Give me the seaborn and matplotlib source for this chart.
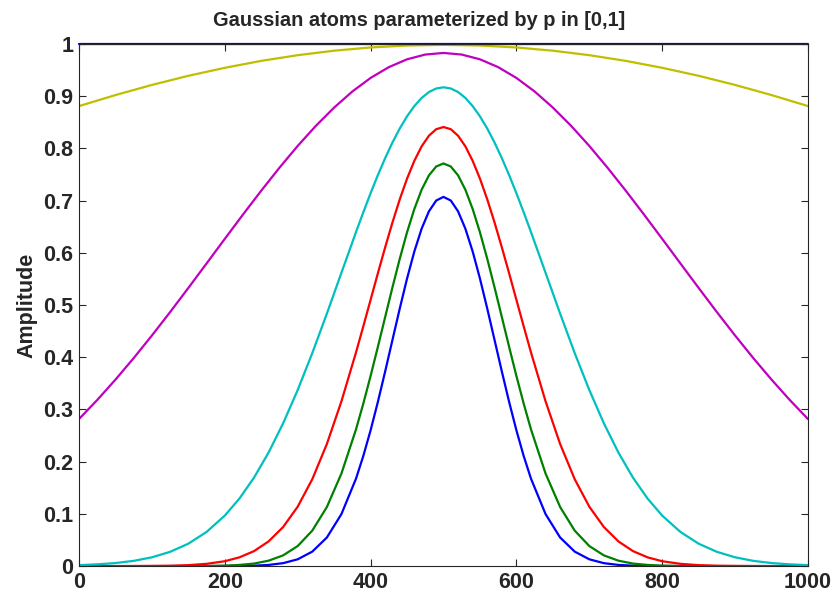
import numpy as np
import pandas as pd
import matplotlib
matplotlib.use("Agg")
import matplotlib.pyplot as plt
import seaborn as sns

# ---- data ----
x_narrow = [0, 25, 50, 75, 100, 125, 150, 175, 200, 220, 240, 260, 280, 300, 320, 340, 360, 380,
            390, 400, 410, 420, 430, 440, 450, 460, 470, 480, 490, 500,
            510, 520, 530, 540, 550, 560, 570, 580, 590, 600, 610,
            620, 640, 660, 680, 700, 720, 740, 760, 780,
            800, 825, 850, 875, 900, 925, 950, 975, 1000]

blue_narrow = [0, 0, 0, 0, 0, 0, 0, 0, 0.0001, 0.0003, 0.0008, 0.0022, 0.0056, 0.0130, 0.0277, 0.0547, 0.0996, 0.1675,
               0.2109, 0.2601, 0.3146, 0.3729, 0.4332, 0.4933, 0.5507, 0.6026, 0.6462, 0.6794, 0.7001, 0.7071,
               0.7001, 0.6794, 0.6462, 0.6026, 0.5507, 0.4933, 0.4332, 0.3729, 0.3146, 0.2601, 0.2109,
               0.1675, 0.0996, 0.0547, 0.0277, 0.0130, 0.0056, 0.0022, 0.0008, 0.0003,
               0.0001, 0, 0, 0, 0, 0, 0, 0, 0]

green = [0, 0, 0, 0, 0, 0, 0.0001, 0.0003, 0.0009, 0.0022, 0.0048, 0.0103, 0.0205, 0.0384, 0.0679, 0.1131, 0.1773, 0.2619,
         0.3112, 0.3642, 0.4200, 0.4771, 0.5339, 0.5886, 0.6393, 0.6839, 0.7208, 0.7483, 0.7653, 0.7711,
         0.7653, 0.7483, 0.7208, 0.6839, 0.6393, 0.5886, 0.5339, 0.4771, 0.4200, 0.3642, 0.3112,
         0.2619, 0.1773, 0.1131, 0.0679, 0.0384, 0.0205, 0.0103, 0.0048, 0.0022,
         0.0009, 0.0003, 0.0001, 0, 0, 0, 0, 0, 0]

red = [0, 0, 0, 0.0001, 0.0003, 0.0007, 0.0018, 0.0043, 0.0093, 0.0167, 0.0286, 0.0472, 0.0748, 0.1138, 0.1664, 0.2338, 0.3156, 0.4093,
       0.4592, 0.5100, 0.5609, 0.6106, 0.6582, 0.7024, 0.7421, 0.7762, 0.8039, 0.8242, 0.8367, 0.8409,
       0.8367, 0.8242, 0.8039, 0.7762, 0.7421, 0.7024, 0.6582, 0.6106, 0.5609, 0.5100, 0.4592,
       0.4093, 0.3156, 0.2338, 0.1664, 0.1138, 0.0748, 0.0472, 0.0286, 0.0167,
       0.0093, 0.0043, 0.0018, 0.0007, 0.0003, 0.0001, 0, 0, 0]

cyan = [0.0018, 0.0033, 0.0058, 0.0100, 0.0168, 0.0273, 0.0429, 0.0654, 0.0967, 0.1292, 0.1692, 0.2173, 0.2734, 0.3373, 0.4079, 0.4835, 0.5618, 0.6398,
        0.6776, 0.7142, 0.7489, 0.7814, 0.8113, 0.8381, 0.8614, 0.8810, 0.8966, 0.9079, 0.9147, 0.9170,
        0.9147, 0.9079, 0.8966, 0.8810, 0.8614, 0.8381, 0.8113, 0.7814, 0.7489, 0.7142, 0.6776,
        0.6398, 0.5618, 0.4835, 0.4079, 0.3373, 0.2734, 0.2173, 0.1692, 0.1292,
        0.0967, 0.0654, 0.0429, 0.0273, 0.0168, 0.0100, 0.0058, 0.0033, 0.0018]

x_magenta = [0, 25, 50, 75, 100, 125, 150, 175, 200, 225, 250, 275, 300, 325, 350, 375, 400, 425, 450, 475, 500,
             525, 550, 575, 600, 625, 650, 675, 700, 725, 750, 775, 800, 825, 850, 875, 900, 925, 950, 975, 1000]
magenta = [0.2816, 0.3181, 0.3571, 0.3983, 0.4416, 0.4865, 0.5327, 0.5796, 0.6267, 0.6734, 0.7190, 0.7630, 0.8047,
           0.8433, 0.8782, 0.9090, 0.9349, 0.9556, 0.9706, 0.9797, 0.9828,
           0.9797, 0.9706, 0.9556, 0.9349, 0.9090, 0.8782, 0.8433, 0.8047, 0.7630, 0.7190, 0.6734, 0.6267,
           0.5796, 0.5327, 0.4865, 0.4416, 0.3983, 0.3571, 0.3181, 0.2816]

x_yellow = [0, 50, 100, 150, 200, 250, 300, 350, 400, 450, 500, 550, 600, 650, 700, 750, 800, 850, 900, 950, 1000]
yellow = [0.8810, 0.9021, 0.9215, 0.9390, 0.9543, 0.9676, 0.9785, 0.9871, 0.9933, 0.9970, 0.9983,
          0.9970, 0.9933, 0.9871, 0.9785, 0.9676, 0.9543, 0.9390, 0.9215, 0.9021, 0.8810]

x_flat = [0, 1000]
blue_flat = [1.0, 1.0]

x_ticks = [0, 200, 400, 600, 800, 1000]
y_ticks = [0, 0.1, 0.2, 0.3, 0.4, 0.5, 0.6, 0.7, 0.8, 0.9, 1]
y_ticklabels = ["0", "0.1", "0.2", "0.3", "0.4", "0.5", "0.6", "0.7", "0.8", "0.9", "1"]

title = "Gaussian atoms parameterized by p in [0,1]"
ylabel = "Amplitude"

# ---- plotting ----
sns.set_style("ticks")
plt.rcParams['font.family'] = ['Liberation Sans', 'DejaVu Sans']
plt.rcParams['font.weight'] = 'bold'

fig = plt.figure(figsize=(8.36, 5.94), dpi=100)
ax = fig.add_axes([0.0945, 0.047, 0.872, 0.879])

series = [
    (x_narrow, blue_narrow, (0, 0, 1)),
    (x_narrow, green, (0, 0.5, 0)),
    (x_narrow, red, (1, 0, 0)),
    (x_narrow, cyan, (0, 0.75, 0.75)),
    (x_magenta, magenta, (0.75, 0, 0.75)),
    (x_yellow, yellow, (0.75, 0.75, 0)),
    (x_flat, blue_flat, (0, 0, 1)),
]
for i, (xs, ys, col) in enumerate(series):
    df = pd.DataFrame({"x": xs, "y": ys})
    sns.lineplot(data=df, x="x", y="y", ax=ax, color=col, linewidth=1.6,
                 estimator=None, sort=False, clip_on=(i != len(series) - 1))

ax.set_xlim(0, 1000)
ax.set_ylim(0, 1)
ax.set_xticks(x_ticks)
ax.set_xticklabels([str(v) for v in x_ticks])
ax.set_yticks(y_ticks)
ax.set_yticklabels(y_ticklabels)
ax.tick_params(direction="in", length=5, width=0.8, top=True, right=True,
               labelsize=15.5, color="#262626")
ax.tick_params(axis="x", pad=4)
ax.tick_params(axis="y", pad=4)
for lab in ax.get_xticklabels() + ax.get_yticklabels():
    lab.set_fontweight("bold")
for sp in ax.spines.values():
    sp.set_visible(True)
    sp.set_linewidth(0.8)
    sp.set_color("#262626")
ax.set_xlabel("")
ax.set_ylabel(ylabel, fontsize=15.5, fontweight="bold", labelpad=4)
ax.set_title(title, fontsize=14.4, fontweight="bold", pad=13, x=0.466)

fig.savefig("out.png", dpi=100)
